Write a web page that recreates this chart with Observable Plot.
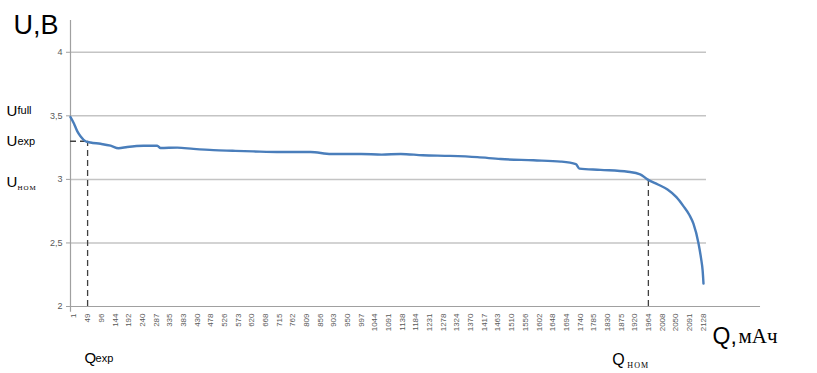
<!DOCTYPE html>
<html><head><meta charset="utf-8">
<script src="https://cdn.jsdelivr.net/npm/d3@7"></script>
<script src="https://cdn.jsdelivr.net/npm/@observablehq/plot@0.6"></script>
<style>body{margin:0;background:#fff} svg{display:block}</style>
</head><body><div id="chart"></div>
<script>
// Category tick labels (capacity Q, mAh)
const qLabels = ["1","49","96","144","192","240","287","335","383","430","478","526","573","620","668","715","762","809","856","903","950","997","1044","1091","1138","1184","1231","1278","1324","1370","1417","1463","1510","1556","1602","1648","1694","1740","1785","1830","1875","1920","1964","2008","2050","2091","2128"];
// Discharge curve: position on the category axis (label index) and voltage, V
const curvePos = [-0.25,0,0.24,0.48,0.85,1.21,1.94,2.68,3.26,3.9,5.09,6.09,6.33,7.55,8.74,10.2,11.6,13.1,15.1,17.3,18.8,21,22.5,23.9,25.5,27.5,29.5,31.2,33.6,35.6,36.7,36.96,38.5,40.5,41.4,41.93,42.7,43.4,44.05,44.56,45.0,45.3,45.66,45.85,45.97,46.03];
const voltage  = [3.49,3.44,3.38,3.34,3.30,3.29,3.28,3.265,3.245,3.255,3.265,3.265,3.247,3.25,3.24,3.23,3.225,3.22,3.215,3.215,3.20,3.20,3.195,3.20,3.19,3.185,3.175,3.16,3.15,3.14,3.12,3.085,3.075,3.06,3.04,3.00,2.96,2.92,2.86,2.79,2.72,2.65,2.50,2.38,2.28,2.18];
const yTicks = [2,2.5,3,3.5,4];
const gridLevels = [2.5,3,3.5,4];
// Characteristic points
const uFull = 3.5, uExp = 3.30, uNom = 3.0;
const qExpIdx = 1, qNomIdx = 42;

const xMin = -0.25, xMax = 46.25, axisEnd = 50.2;
const curve = curvePos.map((p, i) => ({p, v: voltage[i]}));
const sans = "Liberation Sans, Arial, sans-serif";
const serif = "Liberation Serif, Times New Roman, serif";

function label(x, y, main, sub, o) {
  return [
    Plot.text([0], {x: () => x, y: () => y, text: () => main, dx: o.dx, dy: o.dy, textAnchor: "start",
      fontSize: o.size, fontFamily: o.font || sans, fill: "#000"}),
    sub ? Plot.text([0], {x: () => x, y: () => y, text: () => sub, dx: o.dx + o.subDx, dy: o.dy + (o.subDy || 0), textAnchor: "start",
      fontSize: o.subSize, fontFamily: o.subFont || sans, fill: "#000"}) : null
  ];
}

const chart = Plot.plot({
  width: 817, height: 373,
  marginLeft: 70, marginRight: 111, marginTop: 20, marginBottom: 67,
  x: {domain: [xMin, xMax]},
  y: {domain: [2, 4.25]},
  style: {fontFamily: sans, background: "#fff", overflow: "visible"},
  marks: [
    Plot.ruleY(gridLevels, {x1: xMin, x2: xMax, stroke: "#c4c4c4", strokeWidth: 1.5}),
    Plot.ruleY([2], {x1: xMin, x2: axisEnd, stroke: "#a0a0a0", strokeWidth: 1.2}),
    Plot.ruleX([xMin], {y1: 1.955, y2: 4.25, stroke: "#a0a0a0", strokeWidth: 1.2}),
    Plot.axisY({ticks: yTicks, tickSize: 4, tickPadding: 4, tickFormat: d => String(d).replace(".", ","),
      fontSize: 9, stroke: "#a0a0a0", fill: "#595959", label: null}),
    Plot.axisX({ticks: d3.range(qLabels.length), tickFormat: i => qLabels[i], tickRotate: -90,
      tickSize: 0, tickPadding: 7, fontSize: 8, fill: "#595959", label: null}),
    Plot.ruleX([qExpIdx], {y1: 2, y2: uExp, stroke: "#404040", strokeWidth: 1.3, strokeDasharray: "6,4"}),
    Plot.ruleY([uExp], {x1: xMin, x2: qExpIdx, stroke: "#404040", strokeWidth: 1.3, strokeDasharray: "6,4"}),
    Plot.ruleX([qNomIdx], {y1: 2, y2: uNom, stroke: "#404040", strokeWidth: 1.3, strokeDasharray: "6,4"}),
    Plot.line(curve, {x: "p", y: "v", stroke: "#4a7ebb", strokeWidth: 2.4, curve: "monotone-x"}),
    Plot.text(["U,B"], {frameAnchor: "top-left", dx: -57, dy: -6, textAnchor: "start", fontSize: 27, fontFamily: sans, fill: "#000"}),
    ...label(xMin, uFull, "U", "full", {dx: -64, dy: -5, size: 15, subDx: 11, subSize: 11}),
    ...label(xMin, uExp, "U", "exp", {dx: -64, dy: 0, size: 15, subDx: 11, subSize: 11}),
    ...label(xMin, uNom, "U", "ном", {dx: -64, dy: 3, size: 15, subDx: 11, subDy: 4, subSize: 10, subFont: serif}),
    ...label(qExpIdx, 2, "Q", "exp", {dx: -3, dy: 52, size: 15, subDx: 11, subSize: 11}),
    ...label(qNomIdx, 2, "Q", "ном", {dx: -36, dy: 53, size: 16, subDx: 15, subDy: 5, subSize: 11, subFont: serif}),
    ...label(xMax, 2, "Q,", "мАч", {dx: 6, dy: 30, size: 23, subDx: 26, subSize: 21, subFont: serif})
  ].filter(Boolean)
});
// Render the "ном" subscripts as small capitals, as in the original
d3.select(chart).selectAll("text").filter(function() { return this.textContent === "ном"; })
  .style("font-variant", "small-caps").style("letter-spacing", "1px");
document.getElementById("chart").append(chart);
</script>
</body></html>
